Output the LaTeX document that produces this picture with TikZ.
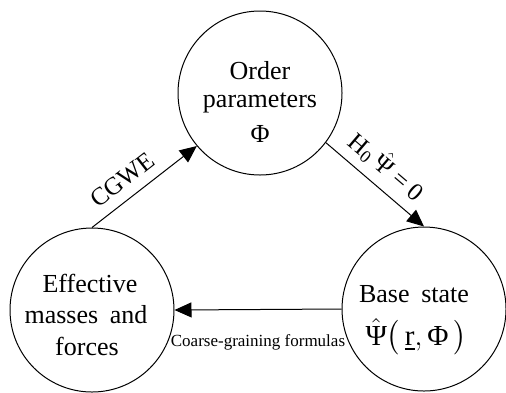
\documentclass[tikz,border=0pt]{standalone}
\usepackage{amsmath}
\usepackage{fontspec}
\setmainfont{Liberation Serif}
\usetikzlibrary{arrows.meta}
\begin{document}
\begin{tikzpicture}[x=0.5pt,y=-0.5pt,
  circ/.style={draw, circle, minimum size=82pt, inner sep=0pt, line width=0.5pt},
  txt/.style={font=\fontsize{13}{15}\selectfont, inner sep=0pt, anchor=base},
  conn/.style={draw, line width=0.5pt, -{Triangle[length=8.5pt,width=7.5pt]}},
  lab/.style={font=\fontsize{12.5}{14}\selectfont, inner sep=0pt, sloped},
  small/.style={font=\fontsize{8.5}{10}\selectfont, inner sep=0pt}]
\useasboundingbox (0,0) rectangle (506,392);
\node[circ] (top) at (260,93) {};
\node[circ] (left) at (92,310) {};
\node[circ] (right) at (424,309) {};
% texts
\node[txt] (t1) at (260,79) {Order};
\node[txt] (t2) at (260,107) {parameters};
\node[txt] (t3) at (260,142) {Φ};
\node[txt] (l1) at (90,292) {Effective};
\node[txt] (l2) at (86,323) {masses\hspace{0.45em}and};
\node[txt] (l3) at (87,355) {forces};
\node[txt] (r1) at (414,302) {Base\hspace{0.45em}state};
\node[txt, font=\fontsize{14.5}{17}\selectfont] (r2) at (416,345) {$\hat{\text{Ψ}}\bigl(\,\underline{\text{r}},\text{Φ}\,\bigr)$};
% connectors
\draw[conn] (left.north) -- node[lab, pos=0.4, above=5pt] {CGWE} (top.220);
\draw[conn] (top.323) -- node[lab, pos=0.48, above=4pt] {H\textsubscript{0}\,$\hat{\text{Ψ}}$ = 0} (right.north);
\draw[conn] (right.west) -- node[small, midway, below=12.5pt] {Coarse-graining formulas} (left.east);
\end{tikzpicture}
\end{document}
